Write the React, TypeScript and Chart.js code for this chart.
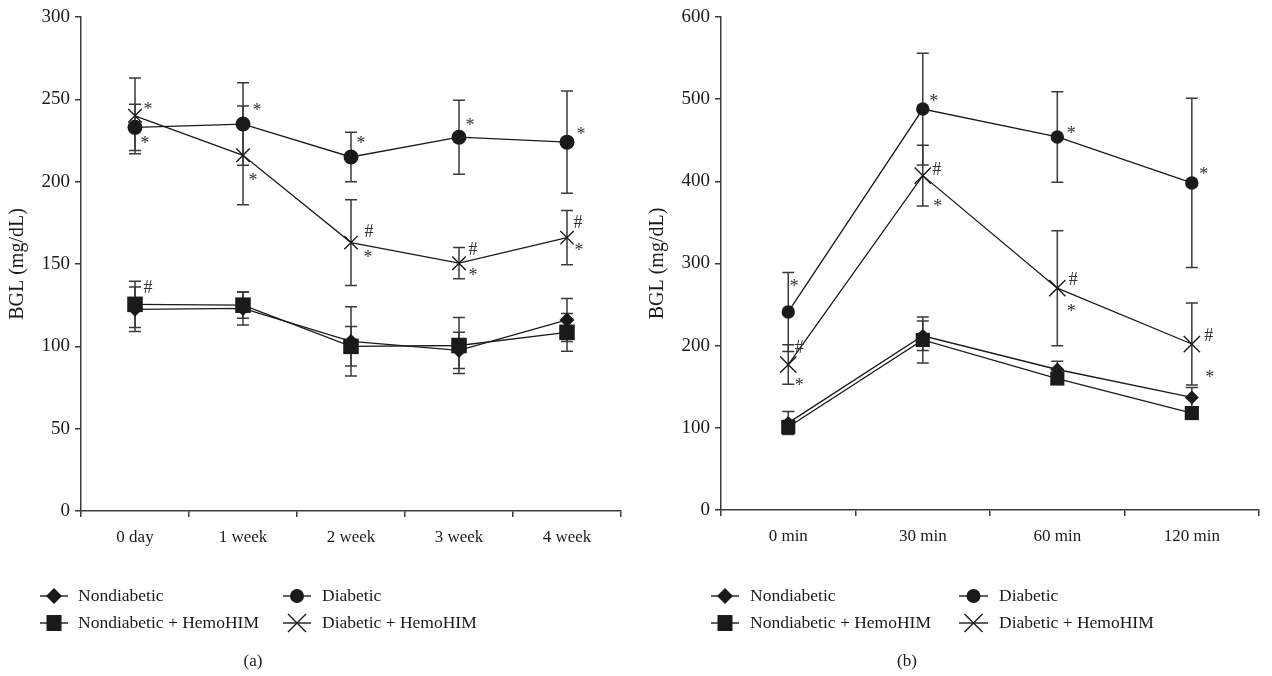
import React, { useEffect, useRef } from 'react';
import { Chart, registerables } from 'chart.js';

Chart.register(...registerables);

const SERIF = '"Liberation Serif", "Times New Roman", "DejaVu Serif", serif';
const INK = '#1a1a1a';
const AXIS = '#3a3a3a';

// ---------- Panel (a): weeks ----------
const weekLabels = ['0 day', '1 week', '2 week', '3 week', '4 week'];
const weekNondiabetic = [122.5, 123, 103, 97.5, 116];
const weekNondiabeticErr = [13.5, 10, 21, 11, 13];
const weekNondiabeticHemo = [125.5, 125, 100, 100.5, 108.5];
const weekNondiabeticHemoErr = [14, 8, 12, 17, 11.5];
const weekDiabetic = [233, 235, 215, 227, 224];
const weekDiabeticErr = [14, 25, 15, 22.5, 31];
const weekDiabeticHemo = [240, 216, 163, 150.5, 166];
const weekDiabeticHemoErr = [23, 30, 26, 9.5, 16.5];
const weekYMax = 300;
const weekYStep = 50;

// ---------- Panel (b): minutes ----------
const minLabels = ['0 min', '30 min', '60 min', '120 min'];
const minNondiabetic = [106, 212, 171, 137];
const minNondiabeticErr = [14, 18, 10, 12];
const minNondiabeticHemo = [101, 207, 160, 118];
const minNondiabeticHemoErr = [8, 28, 6, 5];
const minDiabetic = [241, 488, 454, 398];
const minDiabeticErr = [48, 68, 55, 103];
const minDiabeticHemo = [177, 407, 270, 202];
const minDiabeticHemoErr = [24, 37, 70, 50];
const minYMax = 600;
const minYStep = 100;

const seriesNames = ['Nondiabetic', 'Nondiabetic + HemoHIM', 'Diabetic', 'Diabetic + HemoHIM'];
const seriesMarkers = ['rectRot', 'rect', 'circle', 'crossRot'];
const axisTitle = 'BGL (mg/dL)';

// significance marks: [series index, category index, symbol]
const weekMarks: [number, number, string][] = [
  [3, 0, '*'], [2, 0, '*'], [1, 0, '#'],
  [2, 1, '*'], [3, 1, '*'],
  [2, 2, '*'], [3, 2, '#'], [3, 2, '*'],
  [2, 3, '*'], [3, 3, '#'], [3, 3, '*'],
  [2, 4, '*'], [3, 4, '#'], [3, 4, '*'],
];
// pixel offsets from the anchor point for each mark
const weekMarkOffsets = [
  [13, -9], [10, 13], [13, -17],
  [14, -16], [10, 22],
  [10, -16], [18, -12], [17, 12],
  [11, -15], [14, -14], [14, 9],
  [14, -11], [11, -16], [12, 10],
];

const minMarks: [number, number, string][] = [
  [2, 0, '*'], [3, 0, '#'], [3, 0, '*'],
  [2, 1, '*'], [3, 1, '#'], [3, 1, '*'],
  [2, 2, '*'], [3, 2, '#'], [3, 2, '*'],
  [2, 3, '*'], [3, 3, '#'], [3, 3, '*'],
];
const minMarkOffsets = [
  [6, -28], [11, -18], [11, 18],
  [11, -10], [14, -7], [15, 28],
  [14, -6], [16, -9], [14, 20],
  [12, -11], [17, -9], [18, 31],
];

function drawLegendMarker(ctx: CanvasRenderingContext2D, kind: string, x: number, y: number) {
  ctx.save();
  ctx.fillStyle = INK;
  ctx.strokeStyle = INK;
  ctx.lineWidth = 1.4;
  ctx.beginPath();
  if (kind === 'rectRot') {
    ctx.moveTo(x, y - 8);
    ctx.lineTo(x + 8, y);
    ctx.lineTo(x, y + 8);
    ctx.lineTo(x - 8, y);
    ctx.closePath();
    ctx.fill();
  } else if (kind === 'rect') {
    ctx.fillRect(x - 7.5, y - 8, 15, 16);
  } else if (kind === 'circle') {
    ctx.arc(x, y, 7, 0, Math.PI * 2);
    ctx.fill();
  } else {
    ctx.moveTo(x - 9, y - 9);
    ctx.lineTo(x + 9, y + 9);
    ctx.moveTo(x + 9, y - 9);
    ctx.lineTo(x - 9, y + 9);
    ctx.stroke();
  }
  ctx.restore();
}

const errorBarPlugin = {
  id: 'errorBars',
  beforeDatasetsDraw(chart: any) {
    const ctx = chart.ctx;
    const yScale = chart.scales.y;
    chart.data.datasets.forEach((ds: any, i: number) => {
      const meta = chart.getDatasetMeta(i);
      meta.data.forEach((pt: any, j: number) => {
        const v = ds.data[j];
        const e = ds.errors[j];
        const x = pt.x;
        const yt = yScale.getPixelForValue(v + e);
        const yb = yScale.getPixelForValue(v - e);
        ctx.save();
        ctx.strokeStyle = AXIS;
        ctx.lineWidth = 1.5;
        ctx.beginPath();
        ctx.moveTo(x, yt);
        ctx.lineTo(x, yb);
        ctx.moveTo(x - 6, yt);
        ctx.lineTo(x + 6, yt);
        ctx.moveTo(x - 6, yb);
        ctx.lineTo(x + 6, yb);
        ctx.stroke();
        ctx.restore();
      });
    });
  },
};

const marksPlugin = {
  id: 'sigMarks',
  afterDatasetsDraw(chart: any, _args: any, opts: any) {
    const ctx = chart.ctx;
    const marks = opts.marks || [];
    const offsets = opts.offsets || [];
    ctx.save();
    ctx.fillStyle = '#333';
    ctx.font = `18px ${SERIF}`;
    ctx.textAlign = 'center';
    ctx.textBaseline = 'alphabetic';
    marks.forEach((m: [number, number, string], k: number) => {
      const pt = chart.getDatasetMeta(m[0]).data[m[1]];
      const [dx, dy] = offsets[k];
      const shift = m[2] === '*' ? 18 * 0.47 : 18 * 0.34;
      ctx.fillText(m[2], pt.x + dx, pt.y + dy + shift);
    });
    ctx.restore();
  },
};

const legendPlugin = {
  id: 'panelLegend',
  afterDraw(chart: any, _args: any, opts: any) {
    const ctx = chart.ctx;
    ctx.save();
    opts.items.forEach((it: any) => {
      ctx.strokeStyle = INK;
      ctx.lineWidth = 1.4;
      ctx.beginPath();
      ctx.moveTo(it.x0, it.y);
      ctx.lineTo(it.x1, it.y);
      ctx.stroke();
      drawLegendMarker(ctx, it.marker, (it.x0 + it.x1) / 2, it.y);
      ctx.fillStyle = INK;
      ctx.font = `17.5px ${SERIF}`;
      ctx.textAlign = 'left';
      ctx.textBaseline = 'middle';
      ctx.fillText(it.name, it.tx, it.y);
    });
    ctx.font = `17px ${SERIF}`;
    ctx.textAlign = 'center';
    ctx.textBaseline = 'middle';
    ctx.fillStyle = INK;
    ctx.fillText(opts.caption, opts.cx, opts.cy);
    ctx.restore();
  },
};

type PanelCfg = {
  labels: string[];
  values: number[][];
  errors: number[][];
  yMax: number;
  yStep: number;
  radii: number[];
  marks: [number, number, string][];
  offsets: number[][];
  padRight: number;
  padBottom: number;
  legendCols: number[][];
  caption: string;
  captionX: number;
};

function Panel({ cfg, left, width }: { cfg: PanelCfg; left: number; width: number }) {
  const ref = useRef<HTMLCanvasElement>(null);
  useEffect(() => {
    const items = seriesNames.map((name, i) => {
      const col = cfg.legendCols[i < 2 ? 0 : 1];
      const row = i % 2;
      return { name, marker: seriesMarkers[i], x0: col[0], x1: col[1], tx: col[2], y: row === 0 ? 596 : 623 };
    });
    const chart = new Chart(ref.current!, {
      type: 'line',
      data: {
        labels: cfg.labels,
        datasets: seriesNames.map((name, i) => ({
          label: name,
          data: cfg.values[i],
          errors: cfg.errors[i],
          borderColor: INK,
          borderWidth: 1.3,
          backgroundColor: INK,
          pointBackgroundColor: INK,
          pointBorderColor: INK,
          pointBorderWidth: i === 3 ? 1.4 : 0,
          pointStyle: seriesMarkers[i],
          pointRadius: cfg.radii[i],
          tension: 0,
          fill: false,
        })) as any,
      },
      options: {
        responsive: false,
        animation: false,
        layout: { padding: { left: 0, top: 17, right: cfg.padRight, bottom: cfg.padBottom } },
        plugins: {
          legend: { display: false },
          tooltip: { enabled: false },
          sigMarks: { marks: cfg.marks, offsets: cfg.offsets },
          panelLegend: { items, caption: cfg.caption, cx: cfg.captionX, cy: 662 },
        } as any,
        scales: {
          x: {
            type: 'category',
            offset: true,
            grid: {
              display: true,
              drawOnChartArea: false,
              drawTicks: true,
              tickLength: 6,
              offset: true,
              color: AXIS,
              lineWidth: 1.5,
            },
            border: { display: true, color: AXIS, width: 1.5 },
            ticks: { color: INK, font: { family: SERIF, size: 17 }, padding: 10, autoSkip: false, maxRotation: 0 },
            afterFit: (s: any) => { s.height = 49; },
          },
          y: {
            min: 0,
            max: cfg.yMax,
            grid: {
              display: true,
              drawOnChartArea: false,
              drawTicks: true,
              tickLength: 6,
              color: AXIS,
              lineWidth: 1.5,
            },
            border: { display: true, color: AXIS, width: 1.5 },
            ticks: { stepSize: cfg.yStep, color: INK, font: { family: SERIF, size: 19 }, padding: 5 },
            title: {
              display: true,
              text: axisTitle,
              color: INK,
              font: { family: SERIF, size: 20 },
              padding: { top: 6, bottom: 0 },
            },
            afterFit: (s: any) => { s.width = 81; },
          },
        },
      } as any,
      plugins: [errorBarPlugin, marksPlugin, legendPlugin],
    });
    return () => chart.destroy();
  }, []);
  return (
    <canvas
      ref={ref}
      width={width}
      height={676}
      style={{ position: 'absolute', left, top: 0, width, height: 676 }}
    />
  );
}

export default function App() {
  const panelA: PanelCfg = {
    labels: weekLabels,
    values: [weekNondiabetic, weekNondiabeticHemo, weekDiabetic, weekDiabeticHemo],
    errors: [weekNondiabeticErr, weekNondiabeticHemoErr, weekDiabeticErr, weekDiabeticHemoErr],
    yMax: weekYMax,
    yStep: weekYStep,
    radii: [7.5, 11, 7.5, 9.5],
    marks: weekMarks,
    offsets: weekMarkOffsets,
    padRight: 19,
    padBottom: 116,
    legendCols: [[40, 68, 78], [283, 311, 322]],
    caption: '(a)',
    captionX: 253,
  };
  const panelB: PanelCfg = {
    labels: minLabels,
    values: [minNondiabetic, minNondiabeticHemo, minDiabetic, minDiabeticHemo],
    errors: [minNondiabeticErr, minNondiabeticHemoErr, minDiabeticErr, minDiabeticHemoErr],
    yMax: minYMax,
    yStep: minYStep,
    radii: [7, 10, 6.7, 11.5],
    marks: minMarks,
    offsets: minMarkOffsets,
    padRight: 10,
    padBottom: 117,
    legendCols: [[71, 99, 110], [319, 348, 359]],
    caption: '(b)',
    captionX: 267,
  };
  return (
    <div style={{ position: 'absolute', left: 0, top: 0, width: 1272, height: 676, background: '#fff' }}>
      <Panel cfg={panelA} left={0} width={640} />
      <Panel cfg={panelB} left={640} width={632} />
    </div>
  );
}
